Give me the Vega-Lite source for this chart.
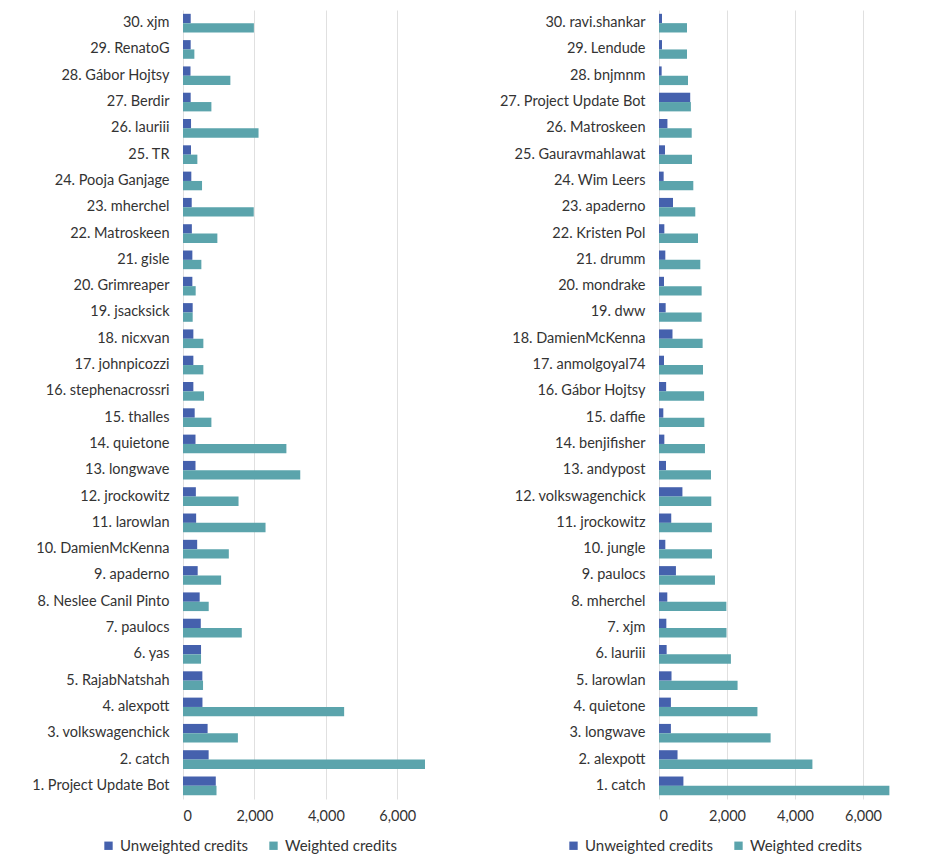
{
  "$schema": "https://vega.github.io/schema/vega-lite/v6.json",
  "background": "white",
  "padding": {"left": 31, "top": 10, "right": 5, "bottom": 5},
  "bounds": "flush",
  "spacing": 226,
  "config": {
    "font": "Lato",
    "view": {"stroke": null},
    "axis": {"labelFont": "Lato", "labelColor": "#333333", "labelFontSize": 14.5, "domain": false, "ticks": false, "title": null, "gridColor": "#e0e0e0", "gridWidth": 1},
    "legend": {"labelFont": "Lato", "labelColor": "#333333", "labelFontSize": 15, "title": null, "symbolType": "square", "symbolSize": 70, "symbolStrokeWidth": 0, "orient": "none", "direction": "horizontal", "columnPadding": 17, "labelOffset": 4}
  },
  "datasets": {
    "left": [
      {"rank": 1, "name": "1. Project Update Bot", "Unweighted credits": 918, "Weighted credits": 938},
      {"rank": 2, "name": "2. catch", "Unweighted credits": 718, "Weighted credits": 6776},
      {"rank": 3, "name": "3. volkswagenchick", "Unweighted credits": 689, "Weighted credits": 1537},
      {"rank": 4, "name": "4. alexpott", "Unweighted credits": 545, "Weighted credits": 4512},
      {"rank": 5, "name": "5. RajabNatshah", "Unweighted credits": 542, "Weighted credits": 561},
      {"rank": 6, "name": "6. yas", "Unweighted credits": 505, "Weighted credits": 505},
      {"rank": 7, "name": "7. paulocs", "Unweighted credits": 498, "Weighted credits": 1646},
      {"rank": 8, "name": "8. Neslee Canil Pinto", "Unweighted credits": 467, "Weighted credits": 720},
      {"rank": 9, "name": "9. apaderno", "Unweighted credits": 411, "Weighted credits": 1067},
      {"rank": 10, "name": "10. DamienMcKenna", "Unweighted credits": 397, "Weighted credits": 1283},
      {"rank": 11, "name": "11. larowlan", "Unweighted credits": 368, "Weighted credits": 2311},
      {"rank": 12, "name": "12. jrockowitz", "Unweighted credits": 360, "Weighted credits": 1555},
      {"rank": 13, "name": "13. longwave", "Unweighted credits": 350, "Weighted credits": 3283},
      {"rank": 14, "name": "14. quietone", "Unweighted credits": 350, "Weighted credits": 2895},
      {"rank": 15, "name": "15. thalles", "Unweighted credits": 327, "Weighted credits": 795},
      {"rank": 16, "name": "16. stephenacrossri", "Unweighted credits": 290, "Weighted credits": 589},
      {"rank": 17, "name": "17. johnpicozzi", "Unweighted credits": 290, "Weighted credits": 570},
      {"rank": 18, "name": "18. nicxvan", "Unweighted credits": 290, "Weighted credits": 570},
      {"rank": 19, "name": "19. jsacksick", "Unweighted credits": 271, "Weighted credits": 271},
      {"rank": 20, "name": "20. Grimreaper", "Unweighted credits": 262, "Weighted credits": 355},
      {"rank": 21, "name": "21. gisle", "Unweighted credits": 262, "Weighted credits": 514},
      {"rank": 22, "name": "22. Matroskeen", "Unweighted credits": 248, "Weighted credits": 962},
      {"rank": 23, "name": "23. mherchel", "Unweighted credits": 244, "Weighted credits": 1981},
      {"rank": 24, "name": "24. Pooja Ganjage", "Unweighted credits": 233, "Weighted credits": 533},
      {"rank": 25, "name": "25. TR", "Unweighted credits": 224, "Weighted credits": 402},
      {"rank": 26, "name": "26. lauriii", "Unweighted credits": 225, "Weighted credits": 2115},
      {"rank": 27, "name": "27. Berdir", "Unweighted credits": 215, "Weighted credits": 795},
      {"rank": 28, "name": "28. Gábor Hojtsy", "Unweighted credits": 210, "Weighted credits": 1326},
      {"rank": 29, "name": "29. RenatoG", "Unweighted credits": 215, "Weighted credits": 318},
      {"rank": 30, "name": "30. xjm", "Unweighted credits": 216, "Weighted credits": 1985}
    ],
    "right": [
      {"rank": 1, "name": "1. catch", "Unweighted credits": 718, "Weighted credits": 6776},
      {"rank": 2, "name": "2. alexpott", "Unweighted credits": 545, "Weighted credits": 4512},
      {"rank": 3, "name": "3. longwave", "Unweighted credits": 350, "Weighted credits": 3283},
      {"rank": 4, "name": "4. quietone", "Unweighted credits": 350, "Weighted credits": 2895},
      {"rank": 5, "name": "5. larowlan", "Unweighted credits": 368, "Weighted credits": 2311},
      {"rank": 6, "name": "6. lauriii", "Unweighted credits": 225, "Weighted credits": 2115},
      {"rank": 7, "name": "7. xjm", "Unweighted credits": 216, "Weighted credits": 1985},
      {"rank": 8, "name": "8. mherchel", "Unweighted credits": 244, "Weighted credits": 1981},
      {"rank": 9, "name": "9. paulocs", "Unweighted credits": 498, "Weighted credits": 1646},
      {"rank": 10, "name": "10. jungle", "Unweighted credits": 186, "Weighted credits": 1558},
      {"rank": 11, "name": "11. jrockowitz", "Unweighted credits": 360, "Weighted credits": 1555},
      {"rank": 12, "name": "12. volkswagenchick", "Unweighted credits": 689, "Weighted credits": 1537},
      {"rank": 13, "name": "13. andypost", "Unweighted credits": 206, "Weighted credits": 1529},
      {"rank": 14, "name": "14. benjifisher", "Unweighted credits": 157, "Weighted credits": 1352},
      {"rank": 15, "name": "15. daffie", "Unweighted credits": 127, "Weighted credits": 1333},
      {"rank": 16, "name": "16. Gábor Hojtsy", "Unweighted credits": 210, "Weighted credits": 1326},
      {"rank": 17, "name": "17. anmolgoyal74", "Unweighted credits": 147, "Weighted credits": 1294},
      {"rank": 18, "name": "18. DamienMcKenna", "Unweighted credits": 397, "Weighted credits": 1283},
      {"rank": 19, "name": "19. dww", "Unweighted credits": 196, "Weighted credits": 1254},
      {"rank": 20, "name": "20. mondrake", "Unweighted credits": 147, "Weighted credits": 1254},
      {"rank": 21, "name": "21. drumm", "Unweighted credits": 186, "Weighted credits": 1215},
      {"rank": 22, "name": "22. Kristen Pol", "Unweighted credits": 157, "Weighted credits": 1147},
      {"rank": 23, "name": "23. apaderno", "Unweighted credits": 411, "Weighted credits": 1067},
      {"rank": 24, "name": "24. Wim Leers", "Unweighted credits": 137, "Weighted credits": 1009},
      {"rank": 25, "name": "25. Gauravmahlawat", "Unweighted credits": 176, "Weighted credits": 970},
      {"rank": 26, "name": "26. Matroskeen", "Unweighted credits": 248, "Weighted credits": 962},
      {"rank": 27, "name": "27. Project Update Bot", "Unweighted credits": 918, "Weighted credits": 938},
      {"rank": 28, "name": "28. bnjmnm", "Unweighted credits": 78, "Weighted credits": 853},
      {"rank": 29, "name": "29. Lendude", "Unweighted credits": 88, "Weighted credits": 823},
      {"rank": 30, "name": "30. ravi.shankar", "Unweighted credits": 88, "Weighted credits": 823}
    ]
  },
  "hconcat": [
    {
      "width": 250,
      "height": 789,
      "data": {"name": "left"},
      "transform": [{"fold": ["Unweighted credits", "Weighted credits"], "as": ["series", "credits"]}],
      "mark": {"type": "bar"},
      "encoding": {
        "y": {"field": "name", "type": "nominal", "sort": {"field": "rank", "op": "max", "order": "descending"}, "scale": {"paddingInner": 0.29, "paddingOuter": 0.145}, "axis": {"labelPadding": 14, "grid": false}},
        "yOffset": {"field": "series", "type": "nominal", "sort": ["Unweighted credits", "Weighted credits"], "scale": {"paddingInner": 0, "paddingOuter": 0}},
        "x": {"field": "credits", "type": "quantitative", "scale": {"domain": [0, 7000], "nice": false}, "axis": {"values": [0, 2000, 4000, 6000], "format": ",.0f", "grid": true, "labelPadding": 10}},
        "color": {"field": "series", "type": "nominal", "scale": {"domain": ["Unweighted credits", "Weighted credits"], "range": ["#4561ad", "#5ba4ac"]}, "legend": {"legendX": -82, "legendY": 828}}
      }
    },
    {
      "width": 238,
      "height": 789,
      "data": {"name": "right"},
      "transform": [{"fold": ["Unweighted credits", "Weighted credits"], "as": ["series", "credits"]}],
      "mark": {"type": "bar"},
      "encoding": {
        "y": {"field": "name", "type": "nominal", "sort": {"field": "rank", "op": "max", "order": "descending"}, "scale": {"paddingInner": 0.29, "paddingOuter": 0.145}, "axis": {"labelPadding": 14, "grid": false}},
        "yOffset": {"field": "series", "type": "nominal", "sort": ["Unweighted credits", "Weighted credits"], "scale": {"paddingInner": 0, "paddingOuter": 0}},
        "x": {"field": "credits", "type": "quantitative", "scale": {"domain": [0, 7000], "nice": false}, "axis": {"values": [0, 2000, 4000, 6000], "format": ",.0f", "grid": true, "labelPadding": 10}},
        "color": {"field": "series", "type": "nominal", "scale": {"domain": ["Unweighted credits", "Weighted credits"], "range": ["#4561ad", "#5ba4ac"]}, "legend": {"legendX": -93, "legendY": 828}}
      }
    }
  ],
  "resolve": {"scale": {"y": "independent", "color": "independent"}, "legend": {"color": "independent"}}
}
